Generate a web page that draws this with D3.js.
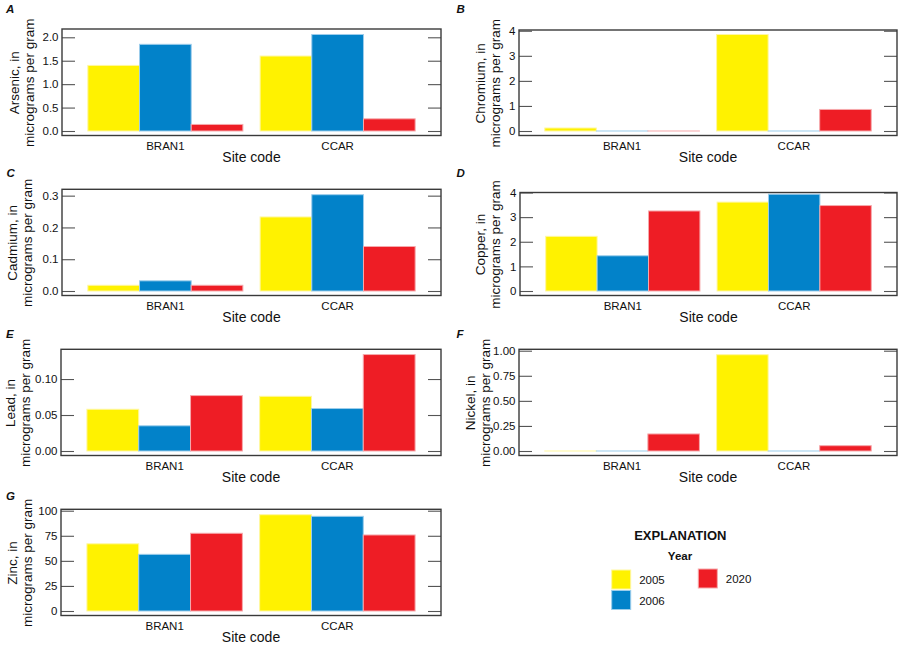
<!DOCTYPE html>
<html><head><meta charset="utf-8">
<script src="https://cdn.jsdelivr.net/npm/d3@7"></script>
<style>
body{margin:0;background:#fff}
text{font-family:"Liberation Sans",Arial,sans-serif;fill:#111}
</style>
</head><body><svg id="c" width="900" height="648"></svg>
<script>
// ---- data ----
const sites = ["BRAN1", "CCAR"];
const years = ["2005", "2006", "2020"];
// values per site, in year order [2005, 2006, 2020]
const arsenic  = [[1.40, 1.85, 0.14], [1.60, 2.06, 0.26]];
const chromium = [[0.12, 0, 0], [3.85, 0, 0.86]];
const cadmium  = [[0.018, 0.032, 0.018], [0.233, 0.303, 0.140]];
const copper   = [[2.22, 1.43, 3.25], [3.61, 3.93, 3.47]];
const lead     = [[0.058, 0.035, 0.077], [0.076, 0.059, 0.134]];
const nickel   = [[0, 0, 0.17], [0.96, 0, 0.053]];
const zinc     = [[67, 56.5, 77.5], [96, 94.4, 75.8]];

const arsenicTicks  = [0, 0.5, 1.0, 1.5, 2.0];
const chromiumTicks = [0, 1, 2, 3, 4];
const cadmiumTicks  = [0, 0.1, 0.2, 0.3];
const copperTicks   = [0, 1, 2, 3, 4];
const leadTicks     = [0, 0.05, 0.10];
const nickelTicks   = [0, 0.25, 0.50, 0.75, 1.00];
const zincTicks     = [0, 25, 50, 75, 100];

const elementNames = ["Arsenic", "Chromium", "Cadmium", "Copper", "Lead", "Nickel", "Zinc"];
const panelLetters = ["A", "B", "C", "D", "E", "F", "G"];
const xTitle = "Site code";
const unitText = "micrograms per gram";
const legendTitle = "EXPLANATION";
const legendSub = "Year";

// ---- styles / layout ----
const fills   = ["#FFF200", "#0282C9", "#EE1D25"];
const strokes = ["#FFF7A0", "#9CCDEB", "#F6A9AC"];

const panels = [
  {letter: 0, values: arsenic,  ticks: arsenicTicks,  fmt: ".1f", yMax: 2.177, box: [62, 441, 29, 135.5],   t1: 14.5},
  {letter: 1, values: chromium, ticks: chromiumTicks, fmt: "d",   yMax: 4.03,  box: [519, 897, 30, 135.5],   t1: 481},
  {letter: 2, values: cadmium,  ticks: cadmiumTicks,  fmt: ".1f", yMax: 0.320, box: [62, 441, 189.3, 295.5], t1: 12.5},
  {letter: 3, values: copper,   ticks: copperTicks,   fmt: "d",   yMax: 4.0,   box: [520, 897, 192.5, 295.5], t1: 481},
  {letter: 4, values: lead,     ticks: leadTicks,     fmt: ".2f", yMax: 0.1413,box: [61, 441, 349.3, 455.5], t1: 11},
  {letter: 5, values: nickel,   ticks: nickelTicks,   fmt: ".2f", yMax: 1.014, box: [519, 897, 349.3, 455.5], t1: 471},
  {letter: 6, values: zinc,     ticks: zincTicks,     fmt: "d",   yMax: 101.4, box: [61, 441, 509.3, 615.5], t1: 13.3}
];
const letterPos = [[6, 13.3], [456.5, 13.3], [6.5, 176.7], [456.5, 177.3], [6, 338.3], [456.5, 338.3], [6, 500]];

const svg = d3.select("#c");

panels.forEach((p, i) => {
  const [x0, x1, y0, y1] = p.box;
  const g = svg.append("g");
  const x = d3.scaleBand().domain(sites).range([x0, x1]).paddingInner(0.1).paddingOuter(0.15);
  const xi = d3.scaleBand().domain(years).range([0, x.bandwidth()]);
  const y = d3.scaleLinear().domain([0, p.yMax]).range([y1 - 4.5, y0]);

  // bars (zero values still show their thin outline)
  sites.forEach((s, si) => {
    g.selectAll(null).data(p.values[si]).join("rect")
      .attr("x", (d, k) => x(s) + xi(years[k]))
      .attr("y", d => Math.min(y(d), y(0) - 0.01))
      .attr("width", xi.bandwidth())
      .attr("height", d => Math.max(y(0) - y(d), 0.01))
      .attr("fill", (d, k) => fills[k])
      .attr("stroke", (d, k) => strokes[k])
      .attr("stroke-width", 1);
  });

  // left axis (inside ticks)
  const ax = d3.axisLeft(y).tickValues(p.ticks).tickFormat(d3.format(p.fmt)).tickSize(-13).tickPadding(3.5);
  const ga = g.append("g").attr("transform", `translate(${x0},0)`).call(ax);
  ga.select(".domain").remove();
  ga.selectAll("line").attr("stroke", "#555").attr("stroke-width", 1.1);
  ga.selectAll("text").attr("font-size", 11.5).attr("fill", "#111");
  const ar = d3.axisRight(y).tickValues(p.ticks).tickFormat("").tickSize(-13);
  const gr = g.append("g").attr("transform", `translate(${x1},0)`).call(ar);
  gr.select(".domain").remove();
  gr.selectAll("line").attr("stroke", "#555").attr("stroke-width", 1.1);

  // x axis labels
  const bx = d3.axisBottom(x).tickSize(0);
  const gb = g.append("g").attr("transform", `translate(0,${y1})`).call(bx);
  gb.select(".domain").remove();
  gb.selectAll("text").attr("dy", null).attr("y", 14.8).attr("font-size", 11.5).attr("fill", "#111");

  // box
  g.append("rect").attr("x", x0).attr("y", y0).attr("width", x1 - x0).attr("height", y1 - y0)
    .attr("fill", "none").attr("stroke", "#3a3a3a").attr("stroke-width", 1.4);

  // x title
  g.append("text").attr("x", (x0 + x1) / 2).attr("y", y1 + 26.5).attr("text-anchor", "middle")
    .attr("font-size", 14).text(xTitle);

  // y title (two lines)
  const cy = (y0 + y1) / 2 + 0.5;
  g.append("text").attr("transform", `translate(${p.t1 + 4},${cy}) rotate(-90)`).attr("text-anchor", "middle")
    .attr("font-size", 13.5).text(elementNames[i] + ", in");
  g.append("text").attr("transform", `translate(${p.t1 + 15.5 + 3.6},${cy}) rotate(-90)`).attr("text-anchor", "middle")
    .attr("font-size", 13.5).text(unitText);

  // panel letter
  g.append("text").attr("x", letterPos[i][0]).attr("y", letterPos[i][1])
    .attr("font-size", 11.5).attr("font-weight", "bold").attr("font-style", "italic")
    .text(panelLetters[i]);
});

// ---- legend ----
const lg = svg.append("g");
lg.append("text").attr("x", 680.3).attr("y", 540).attr("text-anchor", "middle")
  .attr("font-size", 13).attr("font-weight", "bold").text(legendTitle);
lg.append("text").attr("x", 680).attr("y", 560).attr("text-anchor", "middle")
  .attr("font-size", 11.5).attr("font-weight", "bold").text(legendSub);
const legPos = [[611.7, 570], [611.7, 590.5], [698.3, 569]];
years.forEach((yr, k) => {
  lg.append("rect").attr("x", legPos[k][0]).attr("y", legPos[k][1]).attr("width", 19).attr("height", 19)
    .attr("fill", fills[k]).attr("stroke", strokes[k]).attr("stroke-width", 1);
  lg.append("text").attr("x", legPos[k][0] + 27.5).attr("y", legPos[k][1] + 14)
    .attr("font-size", 11.5).text(yr);
});
</script>
</body></html>
